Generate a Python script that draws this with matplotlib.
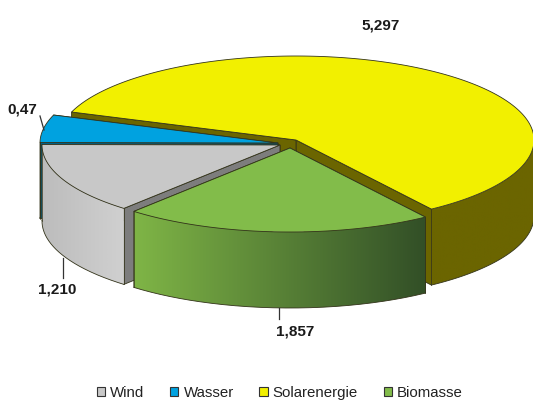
import numpy as np
import matplotlib
matplotlib.use('Agg')
import matplotlib.pyplot as plt
from matplotlib.patches import Polygon, Patch
from matplotlib.colors import LinearSegmentedColormap

plt.rcParams['font.family'] = ['Liberation Sans', 'DejaVu Sans']

names = ['Wind', 'Wasser', 'Solarenergie', 'Biomasse']
values = [1.210, 0.47, 5.297, 1.857]
labels = ['1,210', '0,47', '5,297', '1,857']
top_colors = ['#c8c8c8', '#00a2e0', '#f2f000', '#82bc4a']
side_left = ['#bcbcbc', '#005f85', '#6b6500', '#7fb546']
side_right = ['#d0d0d0', '#005f85', '#6b6500', '#324f27']
wall_colors = ['#7d7d7d', '#005f85', '#6b6500', '#5a8234']
apex_x = [280, 278, 296, 290]
apex_y = [145, 143, 140, 148]
label_x = [57, 22, 381, 295]
label_y = [290, 109, 25, 331]

start_angle = 229
rx, ry = 238, 84
depth = 76


def arc(cx, cy, a0, a1, n=160):
    t = np.radians(np.linspace(a0, a1, n))
    return cx + rx*np.cos(t), cy - ry*np.sin(t)


def draw_slice(ax, i, a0, a1):
    cx, cy = apex_x[i], apex_y[i]
    edge = dict(edgecolor='#33331a', linewidth=0.6, zorder=1)
    # cut walls
    for a in (a0, a1):
        x, y = arc(cx, cy, a, a, 2)
        ax.add_patch(Polygon([(cx, cy), (x[0], y[0]), (x[0], y[0]+depth), (cx, cy+depth)],
                             facecolor=wall_colors[i], **edge))
    # outer wall, only the front half of the ellipse shows
    x, y = arc(cx, cy, a0, a1, 200)
    keep = np.sin(np.radians(np.linspace(a0, a1, 200))) <= 0.02
    x, y = x[keep], y[keep]
    wall = Polygon(np.column_stack([np.r_[x, x[::-1]], np.r_[y, y[::-1]+depth]]),
                   facecolor='none', edgecolor='none', zorder=1)
    ax.add_patch(wall)
    cmap = LinearSegmentedColormap.from_list('s', [side_left[i], side_right[i]])
    im = ax.imshow(np.linspace(0, 1, 256)[None, :], cmap=cmap, aspect='auto', vmin=0, vmax=1,
                   extent=(x.min(), x.max(), y.max()+depth, y.min()), zorder=1)
    im.set_clip_path(wall)
    ax.plot(x, y+depth, color='#33331a', lw=0.6, zorder=1)
    ax.plot([x[0], x[0]], [y[0], y[0]+depth], color='#33331a', lw=0.5, zorder=1)
    ax.plot([x[-1], x[-1]], [y[-1], y[-1]+depth], color='#33331a', lw=0.5, zorder=1)
    # top face
    x, y = arc(cx, cy, a0, a1, 200)
    ax.add_patch(Polygon(np.column_stack([np.r_[cx, x], np.r_[cy, y]]),
                         facecolor=top_colors[i], **edge))


fig = plt.figure(figsize=(5.33, 4.01), dpi=100)
ax = fig.add_axes([0, 0, 1, 1])
ax.set_autoscale_on(False)

# wedges run clockwise from the front left, in the order of the legend
sweeps = 360*np.array(values)/sum(values)
ends = start_angle - np.cumsum(sweeps)
starts = ends + sweeps
for i in (2, 1, 0, 3):
    draw_slice(ax, i, ends[i], starts[i])

# leader lines
ax.plot([40, 44], [116, 130], color='#333333', lw=0.9)
ax.plot([63, 63], [258, 278], color='#333333', lw=0.9)
ax.plot([279, 279], [308, 319], color='#333333', lw=0.9)

for i in range(4):
    ax.text(label_x[i], label_y[i], labels[i], ha='center', va='center',
            fontsize=11, fontweight='bold', color='#1a1a1a')

handles = [Patch(facecolor=c, edgecolor='#333333', linewidth=0.8) for c in top_colors]
ax.legend(handles, names, loc='center', bbox_to_anchor=(0.525, 0.02), ncol=4, frameon=False,
          fontsize=10.8, handlelength=0.55, handleheight=0.55, handletextpad=0.35,
          columnspacing=1.7, labelcolor='#222222', borderpad=0)

ax.set_xlim(0, 533)
ax.set_ylim(401, 0)
ax.axis('off')

fig.savefig('out.png', dpi=100)
